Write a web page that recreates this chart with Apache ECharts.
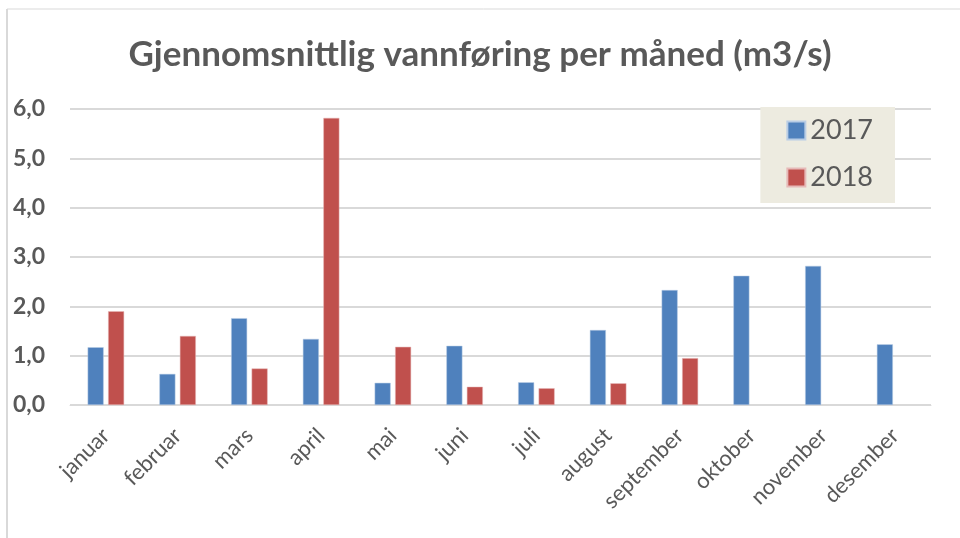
<!DOCTYPE html>
<html>
<head>
<meta charset="utf-8">
<script src="https://cdn.jsdelivr.net/npm/echarts@6/dist/echarts.min.js"></script>
<style>
  html, body { margin: 0; padding: 0; background: #fff; }
  #chart { width: 960px; height: 538px; }
</style>
</head>
<body>
<div id="chart"></div>
<script>
// måneder
var months = ['januar', 'februar', 'mars', 'april', 'mai', 'juni', 'juli', 'august', 'september', 'oktober', 'november', 'desember']
// vannføring 2017 (m3/s)
var flow2017 = [1.17, 0.63, 1.76, 1.34, 0.45, 1.20, 0.46, 1.52, 2.33, 2.62, 2.82, 1.23]
// vannføring 2018 (m3/s), ingen data etter september
var flow2018 = [1.90, 1.40, 0.74, 5.82, 1.18, 0.37, 0.34, 0.44, 0.95, null, null, null]
var yTicks = [0, 1, 2, 3, 4, 5, 6]

var chart = echarts.init(document.getElementById('chart'))
var textColor = '#595959'

chart.setOption({
  backgroundColor: '#fff',
  animation: false,
  // ramme rundt diagrammet
  graphic: [
    { type: 'line', shape: { x1: 7, y1: 9, x2: 960, y2: 9 }, style: { stroke: '#d9d9d9', lineWidth: 1 } },
    { type: 'line', shape: { x1: 7, y1: 9, x2: 7, y2: 538 }, style: { stroke: '#d9d9d9', lineWidth: 2 } }
  ],
  title: {
    text: 'Gjennomsnittlig vannføring per måned (m3/s)',
    left: 'center',
    top: 32,
    textStyle: {
      color: textColor,
      fontFamily: 'Lato',
      fontWeight: 'bold',
      fontSize: 35
    }
  },
  legend: {
    orient: 'vertical',
    right: 65,
    top: 107,
    backgroundColor: '#edebe0',
    padding: [10, 22, 12, 26],
    itemWidth: 18,
    itemHeight: 18,
    itemGap: 20,
    icon: 'rect',
    textStyle: {
      color: textColor,
      fontFamily: 'Lato',
      fontSize: 27
    },
    data: ['2017', '2018']
  },
  grid: {
    left: 70,
    right: 29,
    top: 109,
    bottom: 133,
    containLabel: false
  },
  xAxis: {
    type: 'category',
    data: months,
    axisLine: { lineStyle: { color: '#d9d9d9', width: 1 } },
    axisTick: { show: false },
    axisLabel: {
      interval: 0,
      rotate: 45,
      margin: 27,
      color: textColor,
      fontFamily: 'Lato',
      fontSize: 22
    }
  },
  yAxis: {
    type: 'value',
    min: yTicks[0],
    max: yTicks[yTicks.length - 1],
    interval: 1,
    axisLine: { show: false },
    axisTick: { show: false },
    splitLine: { lineStyle: { color: '#d9d9d9', width: 2 } },
    axisLabel: {
      margin: 25,
      color: textColor,
      fontFamily: 'Lato',
      fontWeight: 'bold',
      fontSize: 23,
      formatter: function (v) { return v.toFixed(1).replace('.', ',') }
    }
  },
  series: [
    {
      name: '2017',
      type: 'bar',
      barWidth: 16,
      barGap: '28%',
      itemStyle: { color: '#4f81bd', borderColor: '#b9cde5', borderWidth: 0.5 },
      data: flow2017
    },
    {
      name: '2018',
      type: 'bar',
      barWidth: 16,
      itemStyle: { color: '#c0504d', borderColor: '#e6b9b8', borderWidth: 0.5 },
      data: flow2018
    }
  ]
})
</script>
</body>
</html>
